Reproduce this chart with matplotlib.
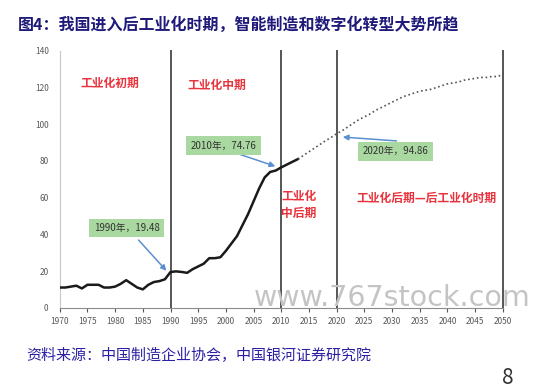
import matplotlib.pyplot as plt
import numpy as np

plt.rcParams['font.family'] = ['Noto Sans CJK SC', 'DejaVu Sans']

# historical (solid) series
years_hist = list(range(1970, 2014))
vals_hist = [11, 11, 11.5, 12, 10.5, 12.5, 12.5, 12.5, 11, 11,
             11.5, 13, 15, 13, 11, 10, 12.5, 14, 14.5, 15.5,
             19.48, 19.8, 19.5, 19, 21, 22.5, 24, 27, 27, 27.5,
             31, 35, 39, 45, 51, 58, 65, 71, 74, 74.76,
             76.5, 78, 79.5, 81]
# projection (dotted) series
years_proj = list(range(2013, 2051))
vals_proj = [81, 83, 85, 87, 89, 91, 92.8, 94.86, 96.5, 98.5,
             100.5, 102.5, 104, 105.5, 107.5, 109, 110.5, 112, 113.5, 115,
             116, 117, 118, 118.5, 119, 120, 121, 122, 122.5, 123,
             124, 124.5, 125, 125.5, 125.5, 126, 126, 127]

stage_lines = [1990, 2010, 2020, 2050]
stage_labels = ['工业化初期', '工业化中期', '工业化\n中后期', '工业化后期—后工业化时期']
stage_pos = [(1979, 122.5), (1998.4, 121), (2013.2, 56), (2036.2, 59.8)]

callouts = ['1990年，19.48', '2010年，74.76', '2020年，94.86']
callout_box = [(1982.1, 43.5), (1999.6, 88.4), (2030.6, 85.2)]
callout_tail = [(1983.9, 38), (2001.1, 85), (2031.3, 90.8)]
callout_head = [(1989.6, 19), (2009.4, 76.6), (2020.6, 93.1)]

fig = plt.figure(figsize=(5.43, 3.91), dpi=100)
ax = fig.add_axes([0.110, 0.213, 0.816, 0.657])

ax.plot(years_hist, vals_hist, color='#1a1a1a', linewidth=1.8, zorder=3)
ax.plot(years_proj, vals_proj, color='#555555', linewidth=1.2, linestyle=':', zorder=3)

for x in stage_lines:
    ax.axvline(x, color='#555555', linewidth=1.4, clip_on=False, zorder=2)

for lab, (x, y) in zip(stage_labels, stage_pos):
    ax.text(x, y, lab, color='#e8323c', fontsize=8.5, fontweight='bold',
            ha='center', va='center', linespacing=1.3)

for lab, (bx, by), (tx, ty), (hx, hy) in zip(callouts, callout_box, callout_tail, callout_head):
    ax.annotate('', xy=(hx, hy), xytext=(tx, ty),
                arrowprops=dict(arrowstyle='-|>', color='#5b8fd0', lw=1.1,
                                mutation_scale=8), zorder=4)
    ax.text(bx, by, lab, fontsize=7, color='#333333', ha='center', va='center',
            bbox=dict(boxstyle='square,pad=0.45', fc='#a9d8a0', ec='none'), zorder=5)

ax.set_xlim(1970, 2050)
ax.set_ylim(0, 140)
ax.set_xticks(range(1970, 2051, 5))
ax.set_yticks(range(0, 141, 20))
ax.tick_params(axis='both', labelsize=6, colors='#595959', length=3, width=0.8)
ax.tick_params(axis='y', length=0, pad=8)
for s in ['top', 'right']:
    ax.spines[s].set_visible(False)
ax.spines['left'].set_color('#c8c8c8')
ax.spines['bottom'].set_color('#8c8c8c')

fig.text(0.033, 0.936, '图4：我国进入后工业化时期，智能制造和数字化转型大势所趋',
         fontsize=11.5, fontweight='bold', color='#1f1a7a', ha='left', va='center')
fig.text(0.048, 0.09, '资料来源：中国制造企业协会，中国银河证券研究院',
         fontsize=10.8, color='#2b1fa3', ha='left', va='center')
fig.text(0.935, 0.033, '8', fontsize=15, color='#333333', ha='center', va='center')
fig.text(0.468, 0.238, 'www.767stock.com', fontsize=20.5, color='#c4c4c4',
         ha='left', va='center', family='DejaVu Sans', zorder=10)

fig.savefig('out.png', dpi=100)
